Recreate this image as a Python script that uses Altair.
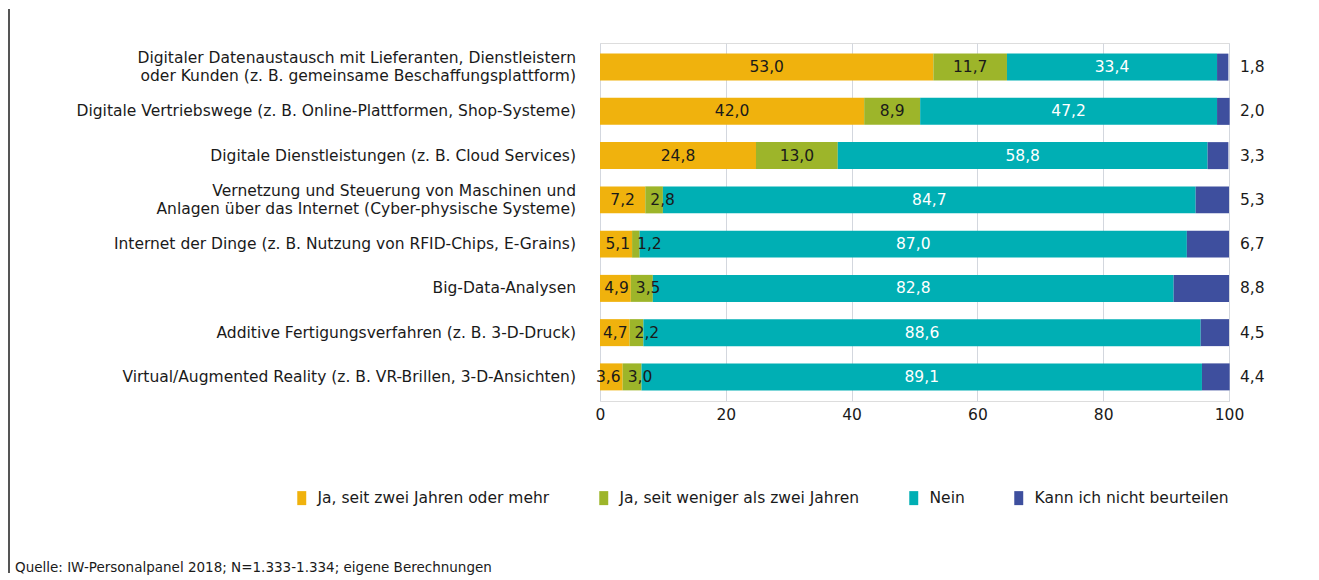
import altair as alt
import pandas as pd

categories = [
    "Digitaler Datenaustausch mit Lieferanten, Dienstleistern|oder Kunden (z. B. gemeinsame Beschaffungsplattform)",
    "Digitale Vertriebswege (z. B. Online-Plattformen, Shop-Systeme)",
    "Digitale Dienstleistungen (z. B. Cloud Services)",
    "Vernetzung und Steuerung von Maschinen und|Anlagen über das Internet (Cyber-physische Systeme)",
    "Internet der Dinge (z. B. Nutzung von RFID-Chips, E-Grains)",
    "Big-Data-Analysen",
    "Additive Fertigungsverfahren (z. B. 3-D-Druck)",
    "Virtual/Augmented Reality (z. B. VR-Brillen, 3-D-Ansichten)",
]
series = [
    "Ja, seit zwei Jahren oder mehr",
    "Ja, seit weniger als zwei Jahren",
    "Nein",
    "Kann ich nicht beurteilen",
]
ja_lang = [53.0, 42.0, 24.8, 7.2, 5.1, 4.9, 4.7, 3.6]
ja_kurz = [11.7, 8.9, 13.0, 2.8, 1.2, 3.5, 2.2, 3.0]
nein = [33.4, 47.2, 58.8, 84.7, 87.0, 82.8, 88.6, 89.1]
kann_nicht = [1.8, 2.0, 3.3, 5.3, 6.7, 8.8, 4.5, 4.4]
colors = ["#F0B20D", "#9DB52A", "#00AFB4", "#3E4F9E"]
x_ticks = [0, 20, 40, 60, 80, 100]
source = "Quelle: IW-Personalpanel 2018; N=1.333-1.334; eigene Berechnungen"

rows = []
for s_i, vals in enumerate([ja_lang, ja_kurz, nein, kann_nicht]):
    for c, v in zip(categories, vals):
        rows.append({"cat": c, "series": series[s_i], "order": s_i, "value": v})
df = pd.DataFrame(rows)
df_cat = pd.DataFrame({"cat": categories})

FONT = "DejaVu Sans"
TXT = "#1a1a1a"
FS = 15.5

base = alt.Chart(df).transform_stack(
    stack="value", groupby=["cat"], as_=["x0", "x1"],
    sort=[alt.SortField("order", "ascending")],
).transform_calculate(
    mid="(datum.x0 + datum.x1) / 2",
    lbl="replace(format(datum.value, '.1f'), '.', ',')",
)

y_enc = alt.Y(
    "cat:N", sort=categories, title=None, axis=None,
    scale=alt.Scale(paddingInner=0.39, paddingOuter=0.24),
)
y_plain = alt.Y("cat:N", sort=categories, axis=None)

bars = base.mark_bar().encode(
    x=alt.X(
        "x0:Q", title=None,
        scale=alt.Scale(domain=[0, 100], nice=False),
        axis=alt.Axis(
            values=x_ticks, domain=False, ticks=False, grid=True,
            gridColor="#d3d7de", gridWidth=1, labelFontSize=FS,
            labelPadding=6, labelColor=TXT, labelFont=FONT, labelFlush=False,
        ),
    ),
    x2="x1:Q",
    y=y_enc,
    color=alt.Color(
        "series:N",
        scale=alt.Scale(domain=series, range=colors),
        legend=alt.Legend(
            orient="none", legendX=-306, legendY=447, direction="horizontal",
            title=None, symbolType="M-0.64,-1L0.64,-1L0.64,1L-0.64,1Z",
            symbolSize=196, symbolStrokeWidth=0, labelFontSize=FS,
            labelFont=FONT, labelColor=TXT, labelOffset=8, columnPadding=46,
            padding=0, labelLimit=500,
        ),
    ),
    order=alt.Order("order:Q"),
)

# category labels (one- and two-line)
cat_single = alt.Chart(df_cat).transform_filter(
    "indexof(datum.cat, '|') < 0"
).mark_text(fontSize=FS, font=FONT, align="right", baseline="middle",
            color=TXT).encode(x=alt.value(-24), y=y_plain, text="cat:N")
cat_multi = alt.Chart(df_cat).transform_filter(
    "indexof(datum.cat, '|') >= 0"
).mark_text(fontSize=FS, font=FONT, align="right", baseline="middle",
            color=TXT, lineBreak="|", lineHeight=18, dy=-9).encode(
    x=alt.value(-24), y=y_plain, text="cat:N")

# centred labels for wide segments
inner = base.transform_filter(
    "datum.order == 2 || (datum.order == 0 && datum.value >= 6) || (datum.order == 1 && datum.value >= 5)"
).mark_text(fontSize=FS, font=FONT, baseline="middle").encode(
    x="mid:Q",
    y=y_plain,
    text="lbl:N",
    color=alt.condition(
        alt.datum.series == "Nein", alt.value("white"), alt.value(TXT)
    ),
)

# narrow first segments: right-aligned at the segment end
small_first = base.transform_filter(
    "datum.order == 0 && datum.value < 6"
).mark_text(fontSize=FS, font=FONT, baseline="middle", align="right", dx=-2,
            color=TXT).encode(x="x1:Q", y=y_plain, text="lbl:N")

# narrow second segments: left-aligned just after the segment start
small_second = base.transform_filter(
    "datum.order == 1 && datum.value < 5"
).mark_text(fontSize=FS, font=FONT, baseline="middle", align="left", dx=5,
            color=TXT).encode(x="x0:Q", y=y_plain, text="lbl:N")

outer = base.transform_filter(
    "datum.order == 3"
).mark_text(fontSize=FS, font=FONT, baseline="middle", align="left", dx=11,
            color=TXT).encode(x=alt.value(629), y=y_plain, text="lbl:N")

note = alt.Chart(pd.DataFrame({"t": [source]})).mark_text(
    fontSize=13.5, font=FONT, align="left", baseline="middle", color=TXT
).encode(x=alt.value(-585), y=alt.value(525), text="t:N")

border = alt.Chart(pd.DataFrame({"a": [0]})).mark_rule(
    color="#555555", strokeWidth=2
).encode(x=alt.value(-591), y=alt.value(-34), y2=alt.value(530))

chart = alt.layer(
    bars, cat_single, cat_multi, inner, small_first, small_second, outer,
    note, border,
).properties(
    width=629, height=358,
    padding={"left": 0, "top": 0, "right": 10, "bottom": 0},
).configure_view(strokeWidth=0).configure(font=FONT)

chart.save("out.html", embed_options={"renderer": "svg", "actions": False})
